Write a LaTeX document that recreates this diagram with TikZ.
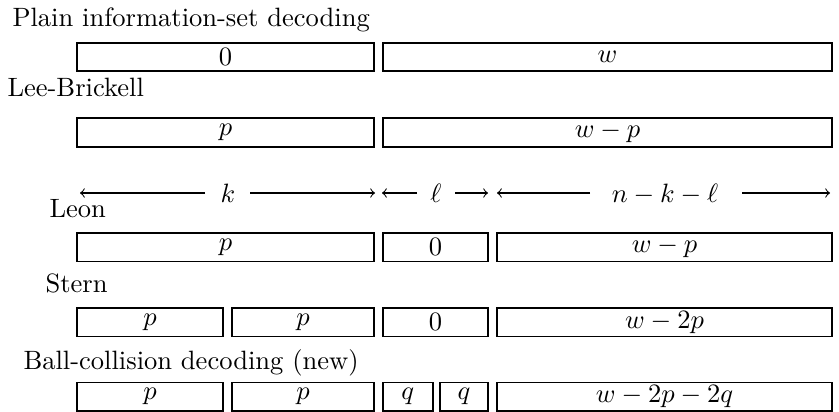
\documentclass[tikz,border=0pt]{standalone}
\begin{document}
\begin{tikzpicture}[x=0.377pt,y=-0.377pt]
\tikzset{
  seg/.style={draw, line width=0.75pt, inner sep=0pt, outer sep=0pt, anchor=center},
  lbl/.style={anchor=base west, inner sep=0pt},
  dimtxt/.style={anchor=base, inner sep=0pt},
  dimarrow/.style={->, line width=0.4pt}
}
\useasboundingbox (0,0) rectangle (839,412);
\newcommand\segbox[6]{\node[seg, minimum width={(#3-#2)*0.377pt}, minimum height={(#5-#4)*0.377pt}] (#1) at ({(#2+#3)/2},{(#4+#5)/2}) {#6};}
% labels
\node[lbl] (plain) at (12,27) {Plain information-set decoding};
\node[lbl] (lee) at (7,97) {Lee-Brickell};
\node[lbl] (leon) at (49,218) {Leon};
\node[lbl] (stern) at (45,293) {Stern};
\node[lbl] (ball) at (23,370) {Ball-collision decoding (new)};
% row 1
\segbox{r1a}{77}{374}{43}{71.5}{$0$}
\segbox{r1b}{383}{832}{43}{71.5}{$w$}
% row 2
\segbox{r2a}{77}{374}{118.5}{147}{$p$}
\segbox{r2b}{383}{832}{118.5}{147}{$w-p$}
% dimension row
\node[dimtxt] (k) at (228,203) {$k$};
\node[dimtxt] (l) at (436,203) {$\ell$};
\node[dimtxt] (nkl) at (665,203) {$n-k-\ell$};
\coordinate (kL) at (80,193); \coordinate (kLa) at (205,193);
\coordinate (kRa) at (250,193); \coordinate (kR) at (375,193);
\coordinate (lL) at (382,193); \coordinate (lLa) at (417,193);
\coordinate (lRa) at (455,193); \coordinate (lR) at (488,193);
\coordinate (nL) at (497,193); \coordinate (nLa) at (590,193);
\coordinate (nRa) at (742,193); \coordinate (nR) at (830,193);
\draw[dimarrow] (kLa) -- (kL);
\draw[dimarrow] (kRa) -- (kR);
\draw[dimarrow] (lLa) -- (lL);
\draw[dimarrow] (lRa) -- (lR);
\draw[dimarrow] (nLa) -- (nL);
\draw[dimarrow] (nRa) -- (nR);
% Leon
\segbox{r3a}{77}{374}{233}{261.5}{$p$}
\segbox{r3b}{383}{488}{233}{261.5}{$0$}
\segbox{r3c}{497}{832}{233}{261.5}{$w-p$}
% Stern
\segbox{r4a}{77}{223}{308}{336.5}{$p$}
\segbox{r4b}{232}{374}{308}{336.5}{$p$}
\segbox{r4c}{383}{488}{308}{336.5}{$0$}
\segbox{r4d}{497}{832}{308}{336.5}{$w-2p$}
% Ball-collision
\segbox{r5a}{77}{223}{382.5}{411}{$p$}
\segbox{r5b}{232}{374}{382.5}{411}{$p$}
\segbox{r5c}{383}{432.5}{382.5}{411}{$q$}
\segbox{r5d}{440}{488}{382.5}{411}{$q$}
\segbox{r5e}{497}{832}{382.5}{411}{$w-2p-2q$}
\end{tikzpicture}
\end{document}
